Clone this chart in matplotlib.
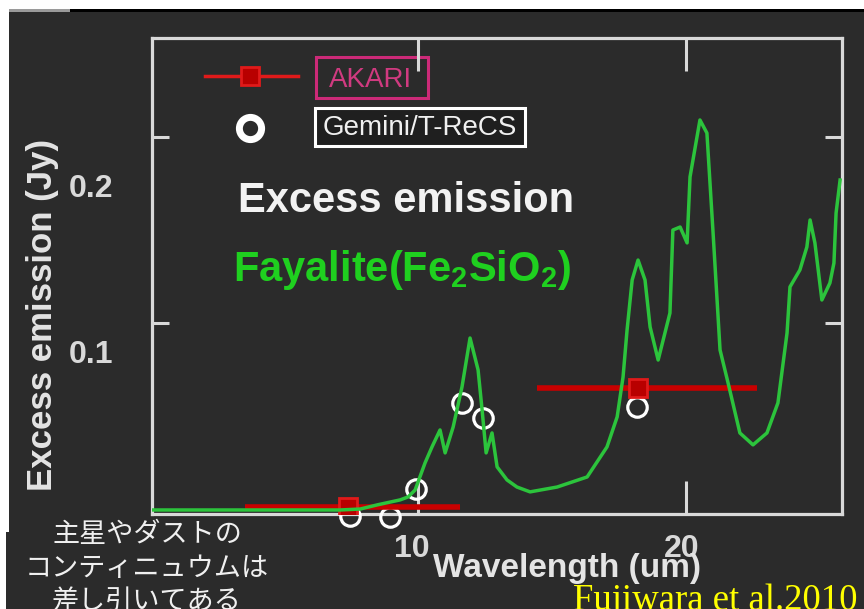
import matplotlib
matplotlib.use('Agg')
import matplotlib.pyplot as plt
from matplotlib.patches import Rectangle
from matplotlib.transforms import ScaledTranslation

plt.rcParams['font.family'] = ['Liberation Sans', 'DejaVu Sans']
plt.rcParams['mathtext.fontset'] = 'custom'
plt.rcParams['mathtext.rm'] = 'Liberation Sans'
plt.rcParams['mathtext.bf'] = 'Liberation Sans:bold'

BG = '#2b2b2b'
FRAME = '#d9d9d9'

# fayalite model spectrum (excess emission, Jy)
wavelength = [0.1, 7.09, 7.84, 8.47, 9.33, 9.63, 9.89, 10.26, 10.52, 10.82,
              11.01, 11.31, 11.64, 11.94, 12.24, 12.39, 12.54, 12.76, 12.95, 13.32,
              13.69, 14.18, 15.19, 16.31, 17.05, 17.43, 17.65, 17.80, 17.99, 18.21,
              18.47, 18.66, 18.96, 19.40, 19.51, 19.78, 20.04, 20.15, 20.52, 20.78,
              21.01, 21.27, 21.57, 22.01, 22.50, 23.02, 23.43, 23.77, 23.88, 24.25,
              24.51, 24.63, 24.81, 25.07, 25.37, 25.52, 25.60, 25.75]
flux = [0.0, 0.0, 0.0005, 0.0027, 0.0054, 0.0070, 0.0107, 0.0252, 0.0338, 0.0429,
        0.0306, 0.0445, 0.0660, 0.0922, 0.0751, 0.0536, 0.0306, 0.0413, 0.0231, 0.0161,
        0.0123, 0.0097, 0.0123, 0.0177, 0.0338, 0.0499, 0.0713, 0.0965, 0.1233, 0.1340,
        0.1233, 0.0981, 0.0804, 0.1056, 0.1501, 0.1517, 0.1432, 0.1786, 0.2091, 0.2021,
        0.1485, 0.0858, 0.0681, 0.0413, 0.0349, 0.0413, 0.0574, 0.0949, 0.1196, 0.1287,
        0.1410, 0.1555, 0.1432, 0.1126, 0.1217, 0.1324, 0.1592, 0.1769]

# Gemini/T-ReCS photometry
gemini_wl = [7.46, 8.96, 9.93, 11.64, 12.43, 18.17]
gemini_flux = [-0.0032, -0.0038, 0.0113, 0.0574, 0.0493, 0.0552]

# AKARI bands: flux at band centre, band edges
akari_wl = [7.39, 18.21]
akari_flux = [0.0016, 0.0654]
akari_lo = [3.54, 14.44]
akari_hi = [11.57, 22.65]

xticks = [10, 20]
yticks = [0.1, 0.2]
jp_lines = ['主星やダストの', 'コンティニュウムは', '差し引いてある']

fig = plt.figure(figsize=(8.64, 6.09), dpi=100, facecolor=BG)
ax = fig.add_axes([0.1759, 0.1568, 0.7986, 0.78])
ax.set_facecolor(BG)

ax.plot(wavelength, flux, color='#2cc43c', lw=2.5, zorder=5)
ax.plot(gemini_wl, gemini_flux, 'o', ms=14, mfc='none', mec='white', mew=2.3,
        zorder=3, clip_on=False)
xerr = [[w - lo for w, lo in zip(akari_wl, akari_lo)],
        [hi - w for w, hi in zip(akari_wl, akari_hi)]]
ax.errorbar(akari_wl, akari_flux, xerr=xerr, fmt='s', ms=13, mfc='#b80000',
            mec='#e01a1a', mew=2, ecolor='#c80000', elinewidth=4, capsize=0, zorder=4)

ax.set_xlim(0.07, 25.82)
ax.set_ylim(-0.0019, 0.2528)

for s in ax.spines.values():
    s.set_color(FRAME)
    s.set_linewidth(2.3)

ax.set_xticks(xticks, labels=[str(t) for t in xticks], fontweight='bold')
ax.set_yticks(yticks, labels=[str(t) for t in yticks], fontweight='bold')
ax.tick_params(axis='x', direction='in', length=24, width=2.2, color=FRAME,
               top=True, bottom=True, labelsize=23, labelcolor=FRAME, pad=15)
ax.tick_params(axis='y', direction='in', length=12, width=2.2, color=FRAME,
               left=True, right=True, labelsize=23, labelcolor=FRAME, pad=28)

# nudge tick labels (pixels)
for lbl, dx in zip(ax.get_xticklabels(), [-6, -4]):
    lbl.set_transform(lbl.get_transform() + ScaledTranslation(dx / 100, 0, fig.dpi_scale_trans))
for lbl, dy in zip(ax.get_yticklabels(), [-28, -49]):
    lbl.set_transform(lbl.get_transform() + ScaledTranslation(0, dy / 100, fig.dpi_scale_trans))

ax.set_xlabel('Wavelength (um)', fontsize=24, fontweight='bold', color='#e4e4e4')
ax.xaxis.set_label_coords(0.601, -0.084)
ax.set_ylabel('Excess emission (Jy)', fontsize=25, fontweight='bold', color='#e4e4e4')
ax.yaxis.set_label_coords(-0.135, 0.417)

# hand-made legend
ta = ax.transAxes
ax.plot([0.0768, 0.2116], [0.92, 0.92], transform=ta, color='#e01a1a', lw=2.5, clip_on=False)
ax.plot([0.142], [0.92], 's', transform=ta, ms=13, mfc='#b80000', mec='#e01a1a',
        mew=2, clip_on=False)
ax.plot([0.142], [0.8126], 'o', transform=ta, ms=16, mfc='none', mec='white',
        mew=5, clip_on=False)
ax.add_patch(Rectangle((0.2377, 0.8737), 0.1623, 0.0863, transform=ta, fill=False,
                       ec='#cc2a78', lw=2.2, clip_on=False))
ax.add_patch(Rectangle((0.2362, 0.7747), 0.3044, 0.08, transform=ta, fc='#1f1f1f',
                       ec='white', lw=2.2, clip_on=False))
ax.text(0.316, 0.897, 'AKARI', transform=ta, ha='center', va='baseline',
        fontsize=20, color='#d03a80')
ax.text(0.388, 0.796, 'Gemini/T-ReCS', transform=ta, ha='center', va='baseline',
        fontsize=20, color='#f0f0f0')

ax.text(0.1246, 0.634, 'Excess emission', transform=ta, ha='left', va='baseline',
        fontsize=30, fontweight='bold', color='#f2f2f2')
ax.text(0.1174, 0.4905, r'Fayalite(Fe$_\mathbf{2}$SiO$_\mathbf{2}$)', transform=ta,
        ha='left', va='baseline', fontsize=30, fontweight='bold', color='#1fd01f')

# page edges
tf = fig.transFigure
fig.add_artist(Rectangle((0, 600 / 609), 1, 9 / 609, transform=tf, fc='white', ec='none'))
fig.add_artist(Rectangle((70 / 864, 597 / 609), 1, 3 / 609, transform=tf, fc='black', ec='none'))
fig.add_artist(Rectangle((9 / 864, 597 / 609), 61 / 864, 3 / 609, transform=tf, fc='#9a9a9a', ec='none'))
fig.add_artist(Rectangle((0, 77 / 609), 9 / 864, 532 / 609, transform=tf, fc='white', ec='none'))
fig.add_artist(Rectangle((0, 0), 6 / 864, 77 / 609, transform=tf, fc='white', ec='none'))

for i, line in enumerate(jp_lines):
    fig.text(147 / 864, (609 - (535 + 33.5 * i)) / 609, line, ha='center', va='center',
             fontsize=19.5, color='#f0f0f0', family=['Noto Sans CJK JP', 'DejaVu Sans'])

fig.text(573 / 864, -0.002, 'Fujiwara et al.2010', ha='left', va='baseline',
         fontsize=26.5, family='Liberation Serif', color='#ffff00')

fig.savefig('out.png', dpi=100, facecolor=fig.get_facecolor())
